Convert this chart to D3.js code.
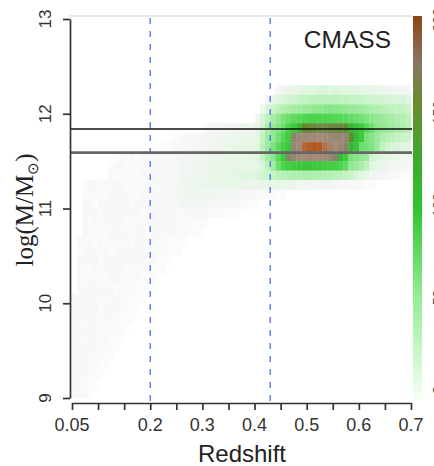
<!DOCTYPE html>
<html><head><meta charset="utf-8">
<script src="https://cdn.jsdelivr.net/npm/d3@7"></script>
<style>html,body{margin:0;padding:0;background:#fff;overflow:hidden}svg{display:block}</style>
</head><body>
<script>
// ---------- data ----------
const xTickValues = [0.05,0.1,0.15,0.2,0.25,0.3,0.35,0.4,0.45,0.5,0.55,0.6,0.65,0.7];
const xTickLabels = [0.05,0.2,0.3,0.4,0.5,0.6,0.7];
const yTickValues = [9,10,11,12,13];
const cbarLabels = ["0","50","100","150","200"];
const cutLines = [11.84, 11.59];        // horizontal mass cuts
const zCuts = [0.2, 0.43];              // vertical redshift cuts
const zBin = 0.01, mBin = 0.1;

// 2D histogram: lower edge of each log-mass row, first redshift bin, densities (0-1)
const massRows = [12.2,12.1,12.0,11.9,11.8,11.7,11.6,11.5,11.4,11.3,11.2,11.1,11.0,10.9,10.8,10.7,10.6,10.5,10.4,10.3,10.2,10.1,10.0,9.9,9.8,9.7,9.6,9.5,9.4,9.3,9.2,9.1,9.0];
const rowStartZ = [0.44,0.42,0.41,0.40,0.30,0.24,0.22,0.14,0.12,0.12,0.07,0.07,0.07,0.07,0.07,0.07,0.06,0.06,0.06,0.06,0.06,0.06,0.05,0.05,0.05,0.05,0.05,0.05,0.05,0.05,0.05,0.05,0.05];
const rowDensity = [
 [0.04,0.06,0.07,0.08,0.09,0.1,0.1,0.11,0.12,0.12,0.11,0.12,0.11,0.1,0.1,0.09,0.09,0.08,0.08,0.07,0.07,0.06,0.06,0.05,0.05,0.04],
 [0.05,0.08,0.1,0.12,0.14,0.15,0.17,0.18,0.19,0.2,0.2,0.21,0.2,0.2,0.19,0.19,0.18,0.17,0.17,0.16,0.15,0.15,0.14,0.13,0.13,0.12,0.12,0.1],
 [0.06,0.12,0.16,0.2,0.23,0.25,0.27,0.28,0.3,0.31,0.33,0.34,0.35,0.36,0.35,0.34,0.33,0.31,0.3,0.28,0.27,0.25,0.24,0.22,0.21,0.2,0.19,0.18,0.16],
 [0.05,0.12,0.2,0.26,0.32,0.38,0.42,0.45,0.47,0.48,0.49,0.5,0.5,0.5,0.49,0.48,0.47,0.46,0.44,0.42,0.4,0.37,0.34,0.32,0.3,0.28,0.26,0.24,0.22,0.2],
 [0.02,0.03,0.04,0.04,0.05,0.05,0.05,0.06,0.06,0.06,
  0.08,0.15,0.25,0.32,0.36,0.42,0.5,0.55,0.6,0.7,0.72,0.73,0.74,0.74,0.73,0.73,0.72,0.7,0.62,0.58,0.55,0.47,0.42,0.35,0.32,0.3,0.28,0.27,0.25,0.22],
 [0.02,0.02,0.03,0.03,0.04,0.04,0.05,0.05,0.05,0.06,0.06,0.06,0.07,0.07,0.07,0.07,
  0.09,0.18,0.28,0.32,0.4,0.48,0.55,0.82,0.85,0.86,0.87,0.88,0.88,0.87,0.86,0.85,0.85,0.83,0.7,0.6,0.55,0.4,0.36,0.3,0.25,0.22,0.2,0.18,0.16,0.15],
 [0.02,0.02,0.03,0.03,0.03,0.04,0.04,0.05,0.05,0.06,0.06,0.06,0.07,0.07,0.07,0.08,0.08,0.08,
  0.1,0.2,0.3,0.38,0.45,0.52,0.56,0.84,0.87,0.95,0.98,1.0,0.99,0.93,0.9,0.88,0.84,0.8,0.62,0.58,0.42,0.4,0.38,0.3,0.2,0.15,0.13,0.12,0.1,0.1],
 [0.02,0.02,0.03,0.02,0.03,0.03,0.03,0.03,0.03,0.03,0.04,0.04,0.05,0.05,0.05,0.06,0.06,0.06,0.07,0.07,0.07,0.08,0.08,0.08,0.08,0.08,
  0.1,0.18,0.28,0.35,0.45,0.55,0.8,0.84,0.86,0.88,0.89,0.88,0.87,0.86,0.84,0.8,0.6,0.55,0.38,0.35,0.32,0.3,0.15,0.12,0.1,0.09,0.08,0.07,0.06,0.05],
 [0.02,0.03,0.03,0.02,0.03,0.03,0.03,0.03,0.03,0.03,0.03,0.03,0.03,0.04,0.05,0.05,0.06,0.06,0.06,0.07,0.07,0.07,0.07,0.08,0.08,0.08,0.08,0.08,
  0.08,0.12,0.2,0.28,0.42,0.5,0.53,0.55,0.56,0.56,0.56,0.55,0.55,0.54,0.53,0.52,0.5,0.45,0.32,0.3,0.26,0.2,0.1,0.08,0.07,0.06,0.05,0.05,0.04,0.04],
 [0.03,0.02,0.03,0.03,0.03,0.02,0.03,0.03,0.03,0.03,0.03,0.03,0.03,0.04,
  0.05,0.05,0.06,0.06,0.07,0.07,0.08,0.08,0.08,0.09,0.09,0.1,0.1,0.1,
  0.12,0.14,0.16,0.18,
  0.2,0.22,0.23,0.24,0.24,0.25,0.25,0.24,0.24,0.23,0.22,0.21,0.2,0.18,0.16,
  0.12,0.1,0.08,0.06,0.05,0.04,0.04,0.03,0.03,0.02,0.02],
 [0.02,0.03,0.03,0.02,0.03,0.03,0.03,0.03,0.02,0.03,0.03,0.03,0.03,0.03,0.03,0.03,0.03,0.04,
  0.05,0.06,0.06,0.07,0.07,0.07,0.07,0.07,0.08,0.08,0.08,0.08,0.08,
  0.07,0.07,0.07,0.08,0.08,0.08,0.08,0.07,0.07,0.07,
  0.06,0.06,0.06,0.05,0.05,0.05,0.05,0.04,0.04,0.04,0.03,0.03,0.03,0.02,0.02],
 [0.02,0.03,0.03,0.03,0.02,0.03,0.03,0.03,0.03,0.03,0.02,0.03,0.03,0.03,0.03,0.03,0.03,0.03,
  0.05,0.05,0.06,0.06,0.06,0.06,0.06,0.06,0.05,0.05,0.05,0.05,
  0.04,0.04,0.035,0.03,0.03,0.03,0.025,0.02,0.02],
 [0.03,0.03,0.02,0.03,0.03,0.03,0.03,0.03,0.03,0.02,0.03,0.03,0.03,0.03,0.03,0.03,0.03,0.03,
  0.04,0.05,0.05,0.05,0.05,0.05,0.04,0.04,0.04,
  0.03,0.03,0.03,0.03,0.025,0.02,0.02],
 [0.03,0.03,0.03,0.02,0.03,0.03,0.03,0.03,0.03,0.03,0.03,0.02,0.03,0.03,0.03,0.03,0.03,0.03,0.03,0.03,0.03,0.03,0.03,0.03,0.03,0.025,0.025,0.02,0.02,0.02],
 [0.03,0.02,0.03,0.03,0.03,0.03,0.03,0.03,0.02,0.03,0.03,0.03,0.03,0.03,0.03,0.03,0.03,0.03,0.03,0.025,0.025,0.02,0.02,0.02],
 [0.03,0.03,0.03,0.03,0.02,0.03,0.03,0.03,0.03,0.03,0.03,0.03,0.02,0.03,0.03,0.03,0.03,0.03,0.025,0.025,0.02,0.02,0.02],
 [0.03,0.03,0.03,0.02,0.03,0.03,0.03,0.03,0.03,0.03,0.02,0.03,0.03,0.03,0.03,0.03,0.025,0.025,0.02,0.02,0.02],
 [0.02,0.03,0.03,0.03,0.03,0.03,0.02,0.03,0.03,0.03,0.03,0.03,0.03,0.03,0.03,0.025,0.025,0.02,0.02,0.02],
 [0.03,0.03,0.03,0.03,0.02,0.03,0.03,0.03,0.03,0.03,0.03,0.03,0.03,0.025,0.025,0.02,0.02,0.02],
 [0.03,0.03,0.02,0.03,0.03,0.03,0.03,0.03,0.03,0.02,0.03,0.03,0.025,0.025,0.02,0.02,0.02],
 [0.03,0.03,0.03,0.03,0.03,0.02,0.03,0.03,0.03,0.03,0.025,0.025,0.02,0.02,0.02],
 [0.03,0.03,0.03,0.03,0.03,0.03,0.03,0.02,0.03,0.03,0.025,0.02,0.02,0.02],
 [0.03,0.03,0.03,0.03,0.03,0.03,0.03,0.03,0.03,0.03,0.025,0.02,0.02,0.02],
 [0.03,0.03,0.03,0.03,0.03,0.02,0.03,0.03,0.03,0.025,0.025,0.02,0.02],
 [0.03,0.03,0.03,0.03,0.03,0.03,0.03,0.03,0.025,0.02,0.02,0.02],
 [0.03,0.03,0.03,0.03,0.03,0.03,0.03,0.025,0.025,0.02,0.02],
 [0.03,0.03,0.03,0.03,0.03,0.03,0.025,0.02,0.02,0.02],
 [0.03,0.03,0.03,0.03,0.03,0.025,0.025,0.02,0.02],
 [0.03,0.03,0.03,0.03,0.025,0.025,0.02,0.02],
 [0.03,0.03,0.03,0.03,0.025,0.02,0.02],
 [0.03,0.03,0.03,0.025,0.02,0.02],
 [0.03,0.03,0.025,0.02,0.02],
 [0.03,0.03,0.025,0.02]
];

// ---------- drawing ----------
const W = 434, H = 466;
const svg = d3.select("body").append("svg").attr("width", W).attr("height", H);
const x = d3.scaleLinear().domain([0.05, 0.7]).range([72, 411]);
const y = d3.scaleLinear().domain([9, 13]).range([398, 19]);
const plotTop = 16, plotLeft = 70, plotRight = 412;

const color = d3.scaleLinear()
  .domain([0, 0.04, 0.1, 0.2, 0.35, 0.5, 0.6, 0.7, 0.8, 0.88, 0.95, 1])
  .range(['#ffffff','#f6f6f6','#e0f6e0','#bdf2bd','#8ae68a','#4ad44a','#34bd34','#5f8a2e','#86856a','#a38a7c','#b2683a','#b3561b'])
  .clamp(true);

const cells = [];
massRows.forEach((m, i) => {
  rowDensity[i].forEach((v, j) => {
    const z0 = rowStartZ[i] + j * zBin;
    cells.push({z0: z0, z1: z0 + zBin, m0: m, m1: m + mBin, v: v});
  });
});

svg.append("g").selectAll("rect").data(cells).join("rect")
  .attr("x", d => x(d.z0))
  .attr("y", d => y(d.m1))
  .attr("width", d => x(d.z1) - x(d.z0) + 0.3)
  .attr("height", d => y(d.m0) - y(d.m1) + 0.3)
  .attr("fill", d => color(d.v));

// top frame (light dotted)
svg.append("line").attr("x1", plotLeft).attr("x2", plotRight).attr("y1", plotTop).attr("y2", plotTop)
  .attr("stroke", "#b5b5b5").attr("stroke-width", 1.2).attr("stroke-dasharray", "1.5,1");

// vertical dashed redshift cuts
svg.append("g").selectAll("line").data(zCuts).join("line")
  .attr("x1", d => x(d)).attr("x2", d => x(d))
  .attr("y1", plotTop + 2).attr("y2", 403)
  .attr("stroke", "#4a72f0").attr("stroke-width", 1.3).attr("stroke-dasharray", "6,7");

// horizontal mass cuts
svg.append("line").attr("x1", plotLeft).attr("x2", plotRight)
  .attr("y1", y(cutLines[0])).attr("y2", y(cutLines[0]))
  .attr("stroke", "#111").attr("stroke-width", 1.5);
svg.append("line").attr("x1", plotLeft).attr("x2", plotRight)
  .attr("y1", y(cutLines[1])).attr("y2", y(cutLines[1]))
  .attr("stroke", "#666").attr("stroke-width", 2.6);

// colorbar
const cbar = {x: 413, w: 9, top: 16, bottom: 400};
const defs = svg.append("defs");
const grad = defs.append("linearGradient").attr("id", "cb").attr("x1", 0).attr("y1", 1).attr("x2", 0).attr("y2", 0);
const cbStops = [[0,'#f6fff6'],[0.28,'#90ec90'],[0.5,'#2fc42f'],[0.62,'#3caa2c'],[0.78,'#6b8a30'],[0.88,'#8a7566'],[1,'#8b4513']];
cbStops.forEach(s => grad.append("stop").attr("offset", s[0]).attr("stop-color", s[1]));
svg.append("rect").attr("x", cbar.x).attr("y", cbar.top).attr("width", cbar.w).attr("height", cbar.bottom - cbar.top)
  .attr("fill", "url(#cb)");
// colorbar labels: only their left edge falls inside the picture, as in the reference
const cbScale = d3.scalePoint().domain(cbarLabels).range([390, 20]);
svg.append("g").selectAll("text").data(cbarLabels).join("text")
  .attr("transform", d => `translate(443,${cbScale(d)}) rotate(-90)`)
  .attr("text-anchor", "middle")
  .attr("font-family", "Liberation Sans, Arial, sans-serif").attr("font-size", 14).attr("fill", "#444")
  .text(d => d);

// axes
const axisColor = "#333";
const gx = svg.append("g").attr("transform", "translate(0,403)")
  .call(d3.axisBottom(x).tickValues(xTickValues).tickSize(7).tickSizeOuter(0).tickFormat(""));
const gy = svg.append("g").attr("transform", "translate(70,0)")
  .call(d3.axisLeft(y).tickValues(yTickValues).tickSize(7).tickSizeOuter(0).tickFormat(""));
[gx, gy].forEach(g => {
  g.selectAll("path,line").attr("stroke", axisColor).attr("stroke-width", 1.7);
});

svg.append("g").selectAll("text").data(xTickLabels).join("text")
  .attr("x", d => x(d)).attr("y", 431)
  .attr("text-anchor", "middle")
  .attr("font-family", "Liberation Sans, Arial, sans-serif").attr("font-size", 18).attr("fill", "#333")
  .text(d => d);

svg.append("g").selectAll("text").data(yTickValues).join("text")
  .attr("transform", d => `translate(51,${y(d)}) rotate(-90)`)
  .attr("text-anchor", "middle")
  .attr("font-family", "Liberation Sans, Arial, sans-serif").attr("font-size", 17).attr("fill", "#333")
  .text(d => d);

svg.append("text").attr("x", 242).attr("y", 462).attr("text-anchor", "middle")
  .attr("font-family", "Liberation Sans, Arial, sans-serif").attr("font-size", 24).attr("fill", "#222")
  .text("Redshift");

const yt = svg.append("text").attr("transform", "translate(33,210) rotate(-90)").attr("text-anchor", "middle")
  .attr("font-family", "Liberation Serif, Times New Roman, serif").attr("font-size", 25).attr("fill", "#222");
yt.append("tspan").text("log(M/M");
yt.append("tspan").attr("font-size", 15).attr("dy", 5).text("⊙");
yt.append("tspan").attr("dy", -5).text(")");

svg.append("text").attr("x", 391).attr("y", 48).attr("text-anchor", "end")
  .attr("font-family", "Liberation Sans, Arial, sans-serif").attr("font-size", 24.5).attr("fill", "#222")
  .text("CMASS");
</script>
</body></html>
